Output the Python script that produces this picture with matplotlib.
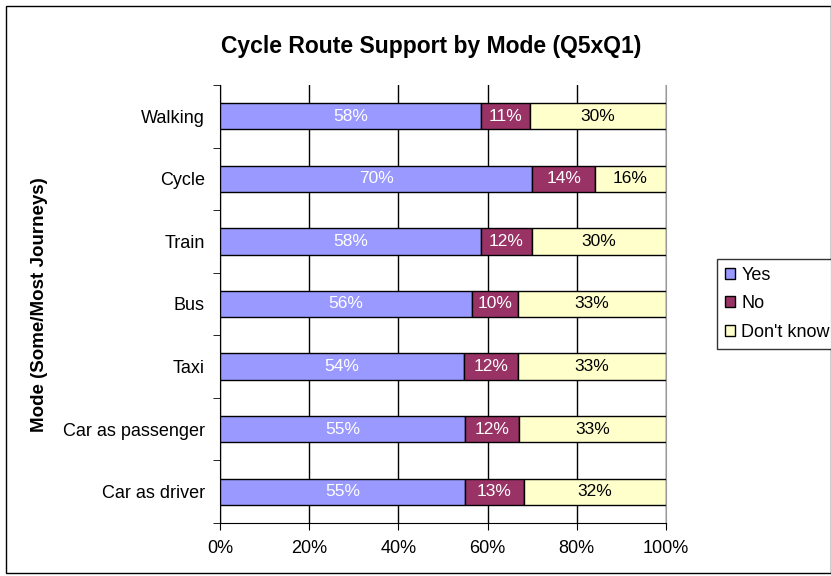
import matplotlib
matplotlib.use("Agg")
import matplotlib.pyplot as plt
from matplotlib.patches import Rectangle
import numpy as np

plt.rcParams['font.family'] = ['Liberation Sans', 'DejaVu Sans']

categories = ["Walking", "Cycle", "Train", "Bus", "Taxi", "Car as passenger", "Car as driver"]
yes_vals = [58.5, 70.0, 58.5, 56.5, 54.7, 54.9, 54.9]
no_vals = [11.0, 14.1, 11.5, 10.3, 12.1, 12.1, 13.3]
dk_vals = [30.5, 15.9, 30.0, 33.2, 33.2, 33.0, 31.8]
yes_labels = ["58%", "70%", "58%", "56%", "54%", "55%", "55%"]
no_labels = ["11%", "14%", "12%", "10%", "12%", "12%", "13%"]
dk_labels = ["30%", "16%", "30%", "33%", "33%", "33%", "32%"]
series_names = ["Yes", "No", "Don't know"]
colors = ["#9999FF", "#993366", "#FFFFCC"]
text_colors = ["white", "white", "black"]
xticks = [0, 20, 40, 60, 80, 100]

W, H = 831, 576
fig = plt.figure(figsize=(W / 100, H / 100), dpi=100)
fig.patches.append(Rectangle((6/W, 3/H), 1 - 6/W, 1 - 9/H, transform=fig.transFigure,
                             fill=False, edgecolor="black", linewidth=1.0))
ax = fig.add_axes([220/W, 1 - 523/H, 446/W, 438/H])

n = len(categories)
ypos = np.arange(n)[::-1]
left = np.zeros(n)
handles = []
for vals, labs, col, tcol, name in zip([yes_vals, no_vals, dk_vals],
                                        [yes_labels, no_labels, dk_labels],
                                        colors, text_colors, series_names):
    vals = np.array(vals)
    b = ax.barh(ypos, vals, left=left, height=0.42, color=col, edgecolor="black",
                linewidth=1.0, label=name, zorder=3)
    handles.append(b)
    for y, l, v, t in zip(ypos, left, vals, labs):
        ax.text(l + v / 2, y, t, ha="center", va="center", color=tcol, fontsize=12.5, zorder=4)
    left = left + vals

ax.set_xlim(0, 100)
ax.set_ylim(-0.5, n - 0.5)
ax.set_xticks(xticks)
ax.set_xticklabels([f"{x}%" for x in xticks], fontsize=13)
ax.set_yticks(ypos)
ax.set_yticklabels(categories, fontsize=13)
ax.set_yticks(np.arange(-0.5, n, 1), minor=True)
ax.tick_params(axis="y", which="major", length=0, pad=11)
ax.tick_params(axis="y", which="minor", length=5, direction="out")
ax.tick_params(axis="x", which="major", length=5, direction="out", pad=7)
ax.xaxis.grid(True, color="black", linewidth=1.0, zorder=0)
ax.set_axisbelow(True)
ax.spines["top"].set_visible(False)
ax.spines["left"].set_color("black")
ax.spines["bottom"].set_color("black")
ax.spines["right"].set_color("#999999")

fig.text(40/W, 1 - 305/H, "Mode (Some/Most Journeys)", rotation=90, ha="center", va="center",
         fontsize=13.5, fontweight="bold")
fig.text(431/W, 1 - 46/H, "Cycle Route Support by Mode (Q5xQ1)", ha="center", va="center",
         fontsize=16.5, fontweight="bold")

leg = fig.legend(handles=handles, labels=series_names, loc="upper left",
                 bbox_to_anchor=(717/W, 1 - 259/H), frameon=True, fancybox=False,
                 edgecolor="black", fontsize=13, handlelength=0.55, handleheight=0.55,
                 handletextpad=0.35, borderpad=0.45, labelspacing=0.62, borderaxespad=0)
leg.get_frame().set_linewidth(1.0)

fig.savefig("out.png", dpi=100)
